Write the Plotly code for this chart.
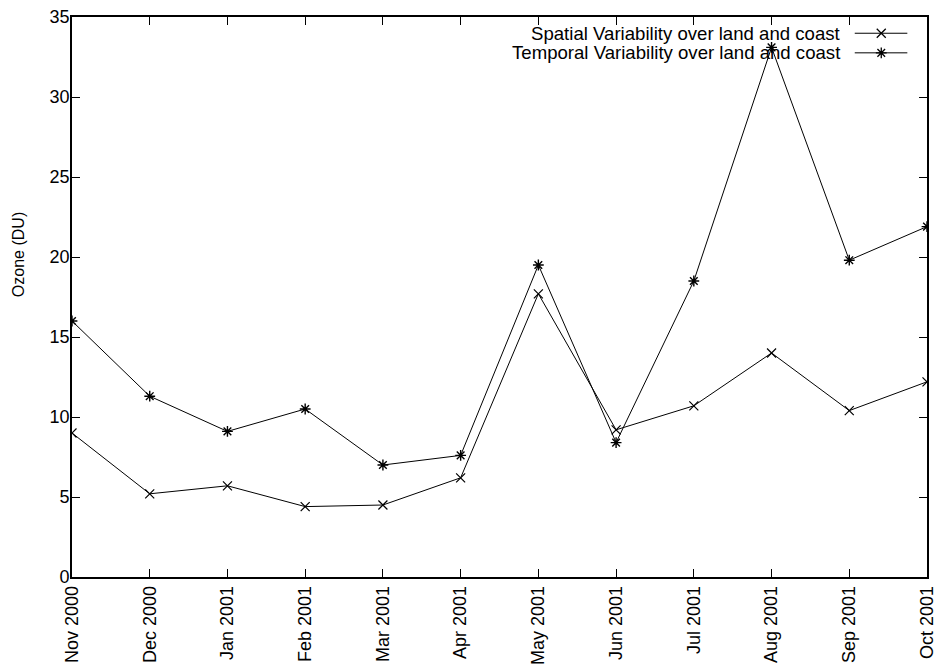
import plotly.graph_objects as go

# Monthly ozone variability (DU) over land and coast
months = ["Nov 2000", "Dec 2000", "Jan 2001", "Feb 2001", "Mar 2001", "Apr 2001",
          "May 2001", "Jun 2001", "Jul 2001", "Aug 2001", "Sep 2001", "Oct 2001"]
spatial = [9.0, 5.2, 5.7, 4.4, 4.5, 6.2, 17.7, 9.2, 10.7, 14.0, 10.4, 12.2]
temporal = [16.0, 11.3, 9.1, 10.5, 7.0, 7.6, 19.5, 8.4, 18.5, 33.1, 19.8, 21.9]

spatial_name = "Spatial Variability over land and coast"
temporal_name = "Temporal Variability over land and coast"

FONT = "Liberation Sans, Arial, Helvetica, sans-serif"
INK = "black"

fig = go.Figure()

fig.add_trace(go.Scatter(
    x=months, y=spatial, mode="lines+markers", name=spatial_name,
    line=dict(color=INK, width=1),
    marker=dict(symbol="x-thin-open", size=9, color=INK,
                line=dict(color=INK, width=1.2)),
    showlegend=False,
))
fig.add_trace(go.Scatter(
    x=months, y=temporal, mode="lines+markers", name=temporal_name,
    line=dict(color=INK, width=1),
    marker=dict(symbol="asterisk-open", size=9, color=INK,
                line=dict(color=INK, width=1.4)),
    showlegend=False,
))

# Key in the top-right corner: text first, then the line sample (gnuplot style)
key_rows = [0.971, 0.936]
key_text_x = 0.902
key_sample_x = [0.9155, 0.9465, 0.977]
key_symbols = ["x-thin-open", "asterisk-open"]
for name, ky, sym in zip([spatial_name, temporal_name], key_rows, key_symbols):
    fig.add_annotation(
        x=key_text_x, y=ky, xref="paper", yref="paper",
        text=name, showarrow=False, xanchor="right", yanchor="middle",
        font=dict(family=FONT, size=18.6, color=INK),
    )
    fig.add_trace(go.Scatter(
        x=key_sample_x, y=[ky] * 3, xaxis="x2", yaxis="y2",
        mode="lines", line=dict(color=INK, width=1),
        showlegend=False, hoverinfo="skip",
    ))
    fig.add_trace(go.Scatter(
        x=[key_sample_x[1]], y=[ky], xaxis="x2", yaxis="y2",
        mode="markers",
        marker=dict(symbol=sym, size=9, color=INK,
                    line=dict(color=INK, width=1.3)),
        showlegend=False, hoverinfo="skip",
    ))

# y-axis title placed like gnuplot's ylabel
fig.add_annotation(
    x=-0.063, y=0.575, xref="paper", yref="paper",
    text="Ozone (DU)", textangle=-90, showarrow=False,
    xanchor="center", yanchor="middle",
    font=dict(family=FONT, size=16, color=INK),
)

axis_common = dict(
    showline=True, linecolor=INK, linewidth=1.6, mirror="allticks",
    ticks="inside", ticklen=8, tickcolor=INK, tickwidth=1.2,
    showgrid=False, zeroline=False,
    tickfont=dict(family=FONT, size=18, color=INK),
)

fig.update_layout(
    width=937, height=669,
    margin=dict(l=72, r=10, t=17, b=92),
    paper_bgcolor="white", plot_bgcolor="white",
    font=dict(family=FONT, size=18, color=INK),
    xaxis=dict(
        type="category", categoryorder="array", categoryarray=months,
        range=[0, len(months) - 1], tickangle=-90, automargin=False,
        **axis_common,
    ),
    yaxis=dict(range=[0, 35], dtick=5, ticklabelstandoff=-3, automargin=False,
               **axis_common),
    xaxis2=dict(overlaying="x", range=[0, 1], visible=False, anchor="y2"),
    yaxis2=dict(overlaying="y", range=[0, 1], visible=False, anchor="x2"),
    showlegend=False,
)

fig.write_html("out.html")
